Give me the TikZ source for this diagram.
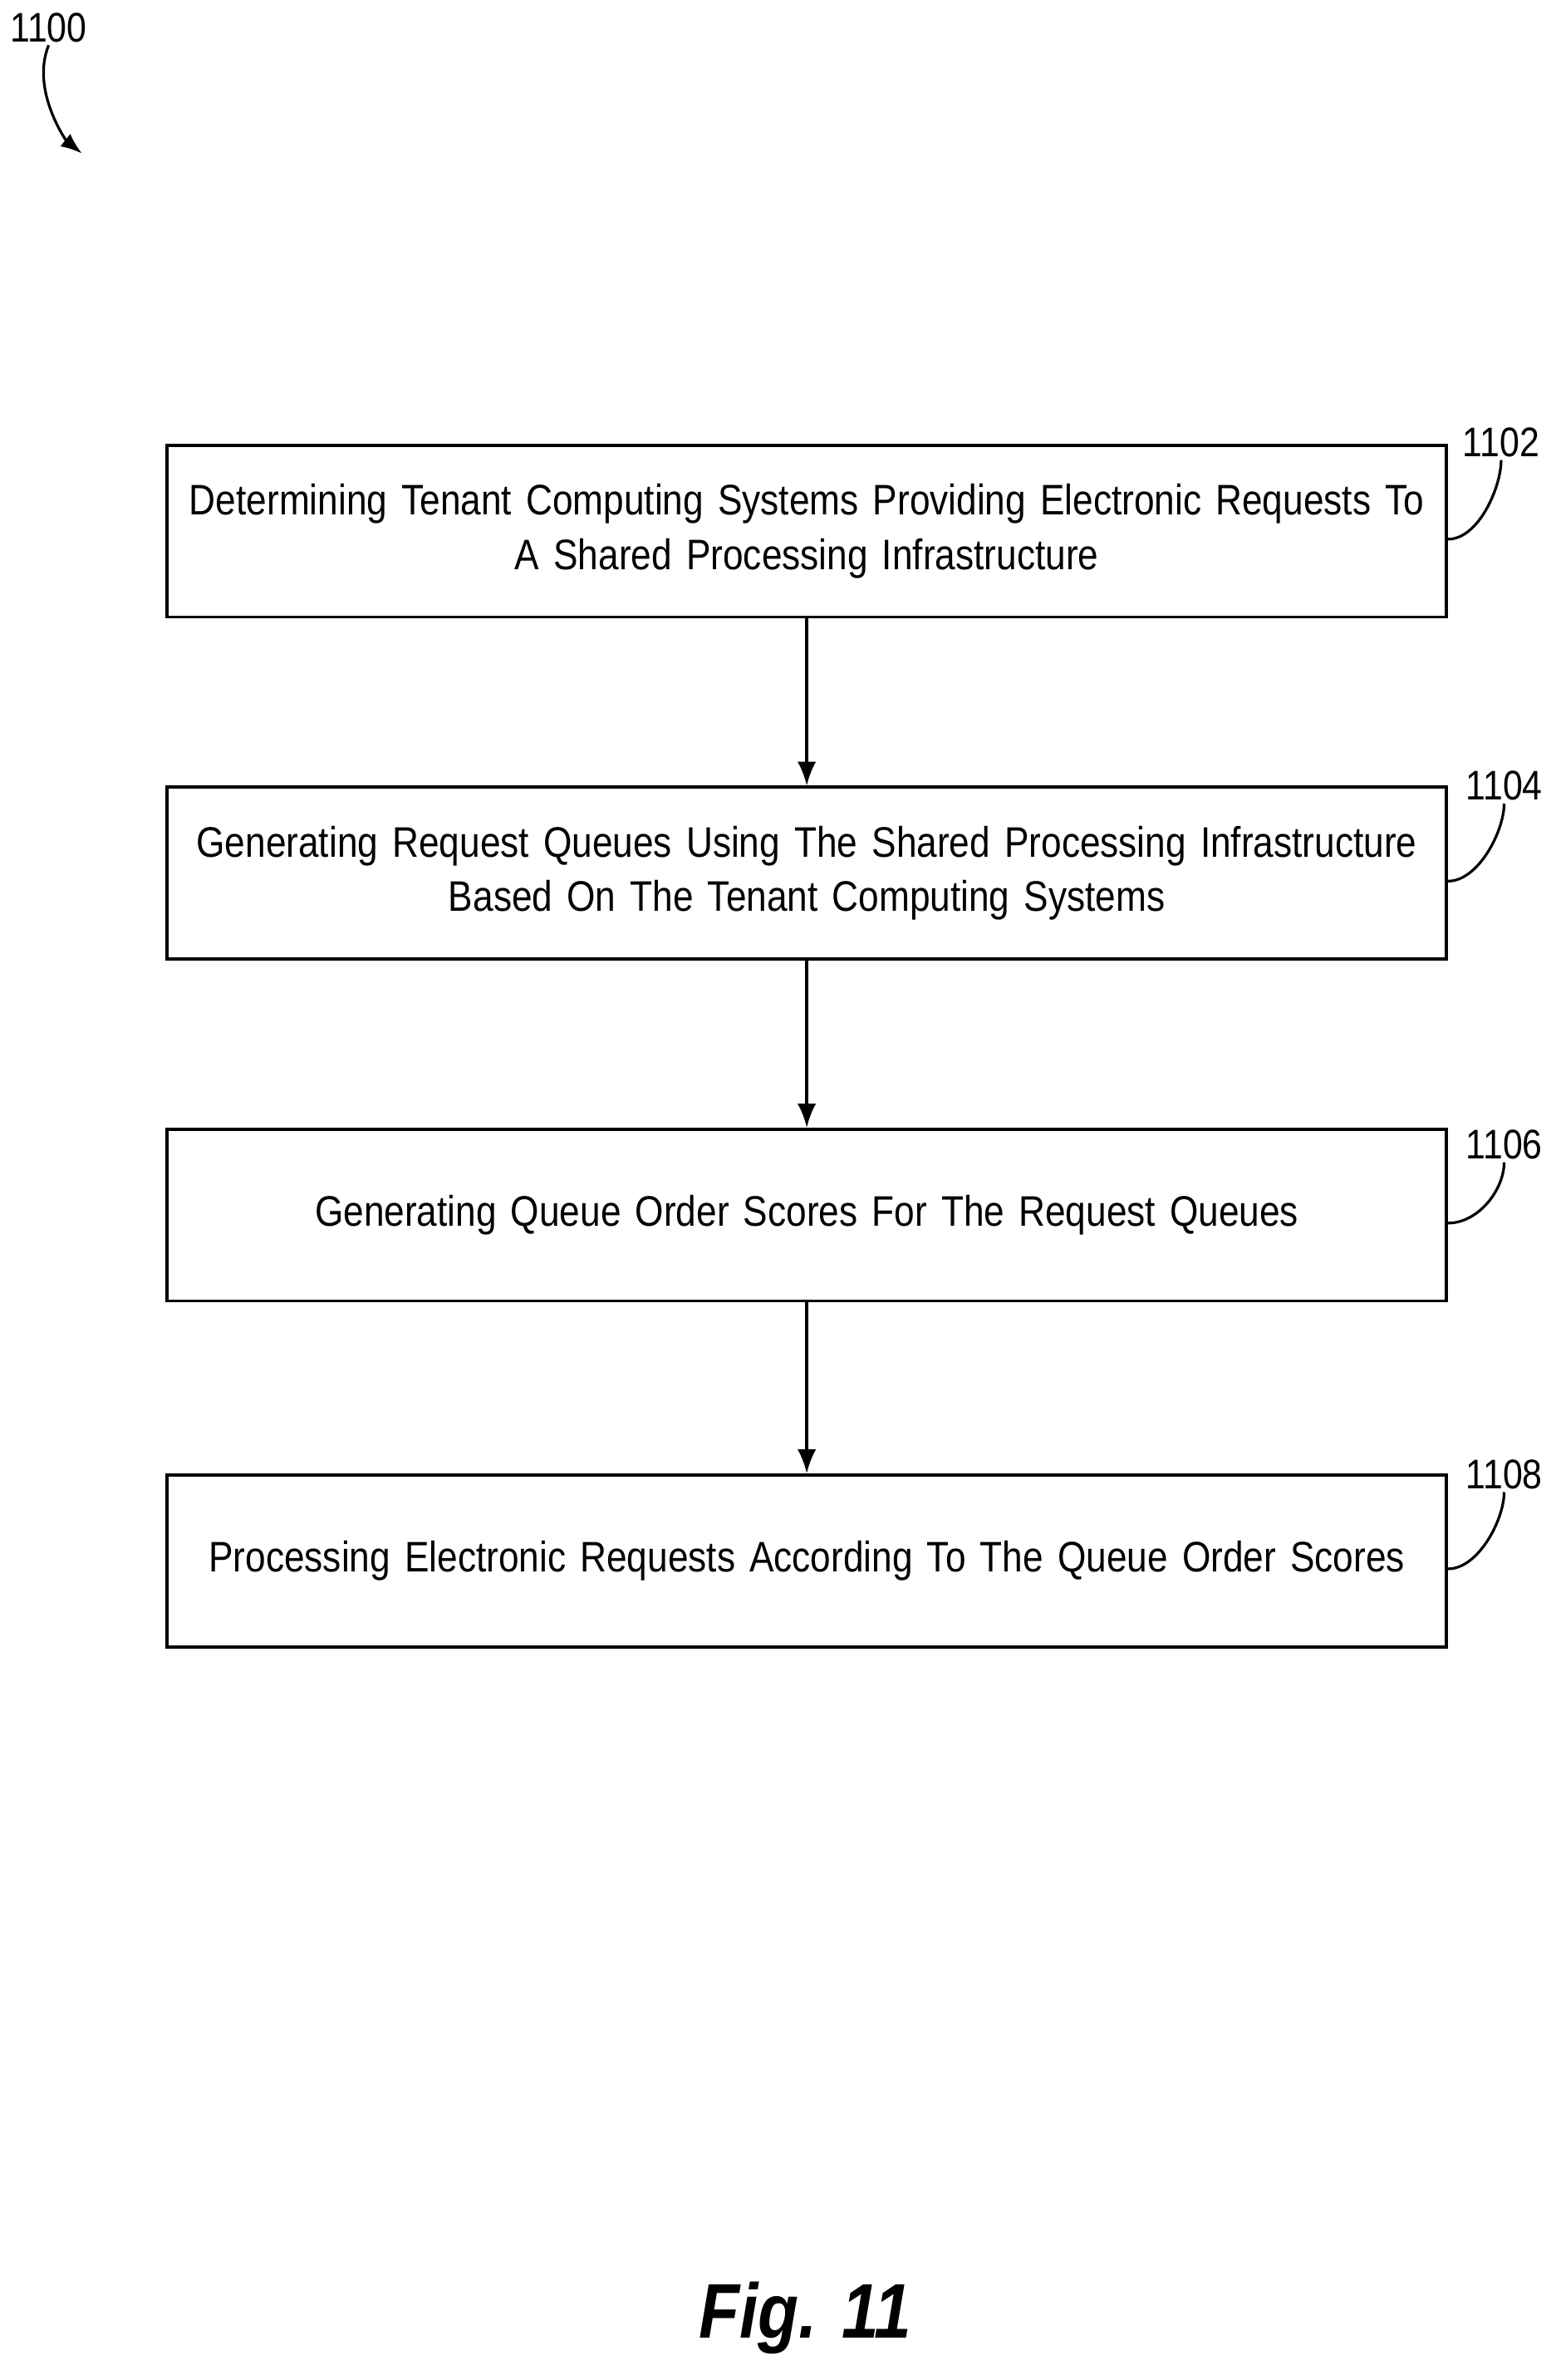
\documentclass[tikz,border=0pt]{standalone}
\usepackage{fontspec}
\setmainfont{Liberation Sans}[FakeStretch=0.86]
\usetikzlibrary{arrows.meta}
\begin{document}
\begin{tikzpicture}[x=0.02cm,y=-0.02cm,
  box/.style={draw,line width=1.2pt,minimum width=842*0.02cm,text width=830*0.02cm,minimum height=113*0.02cm,align=center,font=\fontsize{16}{20.5}\selectfont,inner sep=0pt},
  lbl/.style={font=\fontsize{15.5}{18}\selectfont,inner sep=1pt},
  arr/.style={-{Latex[length=9pt,width=7pt]},line width=1.1pt}]
\useasboundingbox (0,0) rectangle (1024,1566);
\node[box] (b1) at (531,349.5) {Determining Tenant Computing Systems Providing Electronic Requests To\\A Shared Processing Infrastructure};
\node[box] (b2) at (531,574.5) {Generating Request Queues Using The Shared Processing Infrastructure\\Based On The Tenant Computing Systems};
\node[box] (b3) at (531,799.5) {Generating Queue Order Scores For The Request Queues};
\node[box] (b4) at (531,1027) {Processing Electronic Requests According To The Queue Order Scores};
\foreach \a/\b in {b1/b2,b2/b3,b3/b4} \draw[arr] (\a.south) -- (\b.north);
\node[lbl] (l1) at (988,291) {1102};
\node[lbl] (l2) at (990,517) {1104};
\node[lbl] (l3) at (990,753) {1106};
\node[lbl] (l4) at (990,970) {1108};
\foreach \n/\b in {l1/b1,l2/b2,l3/b3,l4/b4}
  \draw[line width=1pt] (\n.south) .. controls +(0,18) and +(20,0) .. ([yshift=-3pt]\b.east);
\node[lbl] (l0) at (32,18) {1100};
\coordinate (t0) at (54,101);
\draw[-{Latex[length=8pt,width=6pt]},line width=1pt] (l0.south) .. controls +(-12,30) and +(-10,-8) .. (t0);
\node[font=\fontsize{29}{33}\bfseries\itshape\selectfont] (fig) at (530,1525) {Fig. 11};
\end{tikzpicture}
\end{document}
